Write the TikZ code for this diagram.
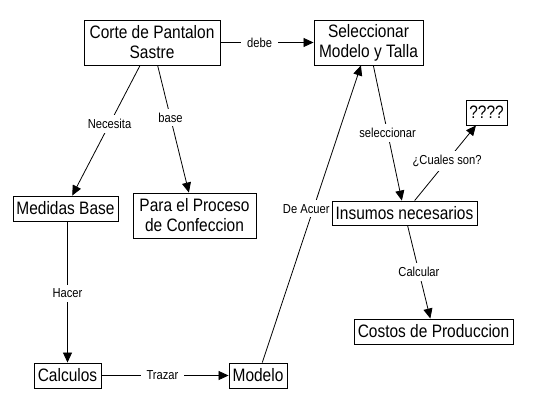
\documentclass[tikz,border=0pt]{standalone}
\usepackage{fontspec}
\setmainfont{Liberation Sans}
\newfontfamily\condfam[FakeStretch=0.86]{Liberation Sans}
\usetikzlibrary{arrows.meta}
\newcommand{\boxfont}{\condfam\fontsize{18}{20}\selectfont}
\newcommand{\lblfont}{\condfam\fontsize{13}{14}\selectfont}
\pgfdeclarelayer{bgl}
\pgfdeclarelayer{edges}
\pgfsetlayers{bgl,edges,main}
\begin{document}
\begin{tikzpicture}[x=1pt,y=-1pt,
  box/.style={draw, fill=white, line width=0.9pt, inner sep=0pt, align=center, font=\boxfont},
  lbl/.style={fill=white, font=\lblfont, inner xsep=6pt, inner ysep=4pt},
  conn/.style={line width=0.8pt, -{Triangle[length=10pt,width=9pt]}}]
\begin{pgfonlayer}{bgl}
\fill[white] (0,0) rectangle (540,409);
\end{pgfonlayer}
\useasboundingbox (0,0) rectangle (540,409);

\node[box, minimum width=136pt, minimum height=45pt] (corte) at (152,42.5) {Corte de Pantalon\\Sastre};
\node[box, minimum width=109pt, minimum height=45pt] (sel) at (368.5,42.5) {Seleccionar\\Modelo y Talla};
\node[box, minimum width=41pt, minimum height=25pt] (q) at (486.5,112.5) {????};
\node[box, minimum width=105pt, minimum height=25pt] (med) at (65.5,208.5) {Medidas Base};
\node[box, minimum width=123pt, minimum height=45pt] (para) at (194.5,215.5) {Para el Proceso\\de Confeccion};
\node[box, minimum width=145pt, minimum height=24pt] (ins) at (404.5,213) {Insumos necesarios};
\node[box, minimum width=159pt, minimum height=25pt] (cost) at (433.5,331.5) {Costos de Produccion};
\node[box, minimum width=67pt, minimum height=25pt] (calc) at (67.5,375.5) {Calculos};
\node[box, minimum width=58pt, minimum height=25pt] (modelo) at (258,375.5) {Modelo};

\begin{pgfonlayer}{edges}
\draw[conn] (corte) -- node[lbl,pos=0.42]{debe} (sel);
\draw[conn] (corte) -- node[lbl,pos=0.45]{Necesita} (med);
\draw[conn] (corte) -- node[lbl,pos=0.41]{base} (para);
\draw[conn] (modelo) -- node[lbl,pos=0.517,xshift=-7pt]{De Acuer} (sel);
\draw[conn] (sel) -- node[lbl]{seleccionar} (ins);
\draw[conn] (ins) -- node[lbl,pos=0.53]{¿Cuales son?} (q);
\draw[conn] (ins) -- node[lbl]{Calcular} (cost);
\draw[conn] (med.south -| calc.north) -- node[lbl,pos=0.51]{Hacer} (calc.north);
\draw[conn] (calc) -- node[lbl,pos=0.48]{Trazar} (modelo);
\end{pgfonlayer}
\end{tikzpicture}
\end{document}
